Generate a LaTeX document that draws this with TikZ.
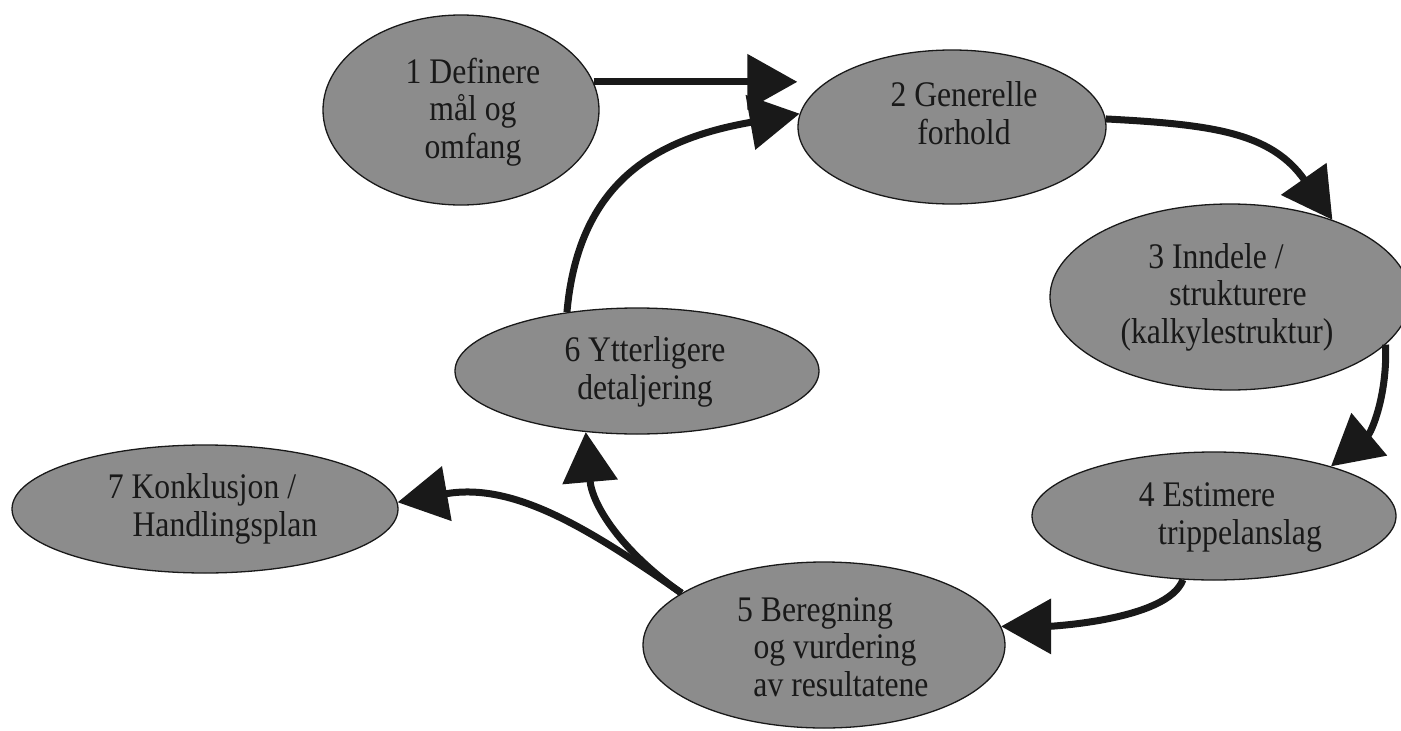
\documentclass[tikz,border=0pt]{standalone}
\usepackage{fontspec}
\setmainfont{Liberation Serif}[FakeStretch=0.88]
\usetikzlibrary{shapes.geometric,arrows.meta}
\definecolor{stagefill}{RGB}{140,140,140}
\definecolor{ink}{RGB}{25,25,25}
\begin{document}
\begin{tikzpicture}[x=1pt,y=1pt,
  stage/.style={ellipse,draw=ink,line width=1.3pt,fill=stagefill,inner sep=0pt},
  stagetext/.style={align=center,inner sep=0pt,text=ink,
    font=\fontsize{36}{37.5}\selectfont},
  flow/.style={draw=ink,line width=7pt,-{Triangle[length=50pt,width=54pt]}}]

\useasboundingbox (0,0) rectangle (1401,-731);

% process stages
\node[stage,minimum width=276pt,minimum height=190pt] (e1) at (461,-110) {};
\node[stage,minimum width=308pt,minimum height=154pt] (e2) at (952,-127) {};
\node[stage,minimum width=360pt,minimum height=186pt] (e3) at (1230,-297) {};
\node[stage,minimum width=364pt,minimum height=128pt] (e4) at (1214,-516) {};
\node[stage,minimum width=362pt,minimum height=166pt] (e5) at (824,-645) {};
\node[stage,minimum width=364pt,minimum height=126pt] (e6) at (637,-371) {};
\node[stage,minimum width=386pt,minimum height=128pt] (e7) at (205,-509) {};

% stage texts
\node[stagetext] (t1) at (473,-113) {\strut 1 Definere\\\strut mål og\hspace*{10pt}\\\strut omfang};
\node[stagetext] (t2) at (964,-118) {\strut 2 Generelle\\\strut forhold};
\node[stagetext] (t3) at (1227,-298) {\strut 3 Inndele /\hspace*{22pt}\\\strut\hspace*{22pt}strukturere\\\strut (kalkylestruktur)};
\node[stagetext] (t4) at (1224,-518) {\strut 4 Estimere\hspace*{34pt}\\\strut\hspace*{32pt}trippelanslag};
\node[stagetext] (t5) at (830,-651) {\strut 5 Beregning\hspace*{30pt}\\\strut\hspace*{10pt}og vurdering\\\strut\hspace*{22pt}av resultatene};
\node[stagetext] (t6) at (645,-373) {\strut 6 Ytterligere\\\strut detaljering};
\node[stagetext] (t7) at (213,-510) {\strut 7 Konklusjon /\hspace*{22pt}\\\strut\hspace*{24pt}Handlingsplan};

% flow between stages
\draw[flow] (e1.12) -- (e1.12 -| e2.west);
\draw[flow] (e6.140) to[out=85,in=190,looseness=1.15] (e2.175);
\draw[flow] (e2.3) to[out=-3,in=125,looseness=1.1] (e3.37);
\draw[flow] (e3.-17) to[out=-88,in=40] (e4.23);
\draw[flow] (e4.-116) to[out=-110,in=0,looseness=0.6] (e5.6);
\draw[flow] (e5.160) to[out=145,in=-85] (e6.-130);
\draw[flow] (e5.160) to[out=145,in=10] (e7.2);
\end{tikzpicture}
\end{document}
